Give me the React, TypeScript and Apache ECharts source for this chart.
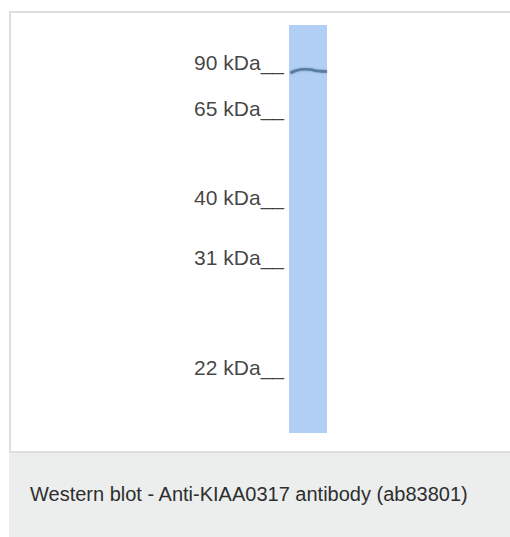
import React, { useEffect, useRef } from "react";
import * as echarts from "echarts";

// Molecular weight markers (kDa) and their migration distance on the membrane (px from lane top)
const markerLabels = ["90 kDa__", "65 kDa__", "40 kDa__", "31 kDa__", "22 kDa__"];
const markerMigration = [45, 91, 180, 240, 350];

// Lane extent (migration range)
const laneStart = 0;
const laneEnd = 408;

// Detected band profile (across lane width 0..1, migration)
const bandX = [0.04, 0.2, 0.4, 0.55, 0.75, 1.0];
const bandY = [48, 45.5, 44.2, 44.5, 46, 46.5];

const caption = "Western blot - Anti-KIAA0317 antibody (ab83801)";

export default function App() {
  const ref = useRef<HTMLDivElement>(null);
  useEffect(() => {
    if (!ref.current) return;
    const chart = echarts.init(ref.current, undefined, { renderer: "svg" });
    const font = "'Liberation Sans', Arial, Helvetica, sans-serif";
    chart.setOption({
      animation: false,
      backgroundColor: "#ffffff",
      graphic: [
        {
          type: "rect",
          z: -10,
          silent: true,
          shape: { x: 10, y: 12, width: 520, height: 440 },
          style: { fill: "#ffffff", stroke: "#dedede", lineWidth: 2 },
        },
        {
          type: "rect",
          z: -9,
          silent: true,
          shape: { x: 9, y: 453, width: 510, height: 90 },
          style: { fill: "#eceeed" },
        },
        {
          type: "text",
          z: 10,
          x: 30,
          y: 494,
          style: {
            text: caption,
            font: `20px ${font}`,
            fill: "#2e2e2e",
            verticalAlign: "middle",
          },
        },
      ],
      grid: { left: 289, right: 510 - 327, top: 25, bottom: 537 - 433 },
      xAxis: { type: "value", min: 0, max: 1, show: false },
      yAxis: { type: "value", inverse: true, min: laneStart, max: laneEnd, show: false },
      series: [
        {
          type: "line",
          data: bandX.map((x, i) => [x, bandY[i]]),
          smooth: true,
          symbol: "none",
          lineStyle: { color: "#587b9c", width: 2.6, shadowColor: "rgba(70,100,140,0.5)", shadowBlur: 2 },
          z: 5,
          markArea: {
            silent: true,
            itemStyle: { color: "#b1cef5" },
            data: [[{ xAxis: 0, yAxis: laneStart }, { xAxis: 1, yAxis: laneEnd }]],
          },
        },
        {
          type: "scatter",
          clip: false,
          symbolSize: 0,
          silent: true,
          data: markerMigration.map((y, i) => ({ value: [0, y], name: markerLabels[i] })),
          label: {
            show: true,
            position: "left",
            distance: 5,
            formatter: (p: any) => p.name,
            fontFamily: font,
            fontSize: 21,
            color: "#111111",
            offset: [0, -8],
          },
        },
      ],
    });
    return () => chart.dispose();
  }, []);
  return (
    <div
      ref={ref}
      style={{ position: "fixed", left: 0, top: 0, width: 510, height: 537 }}
    />
  );
}
